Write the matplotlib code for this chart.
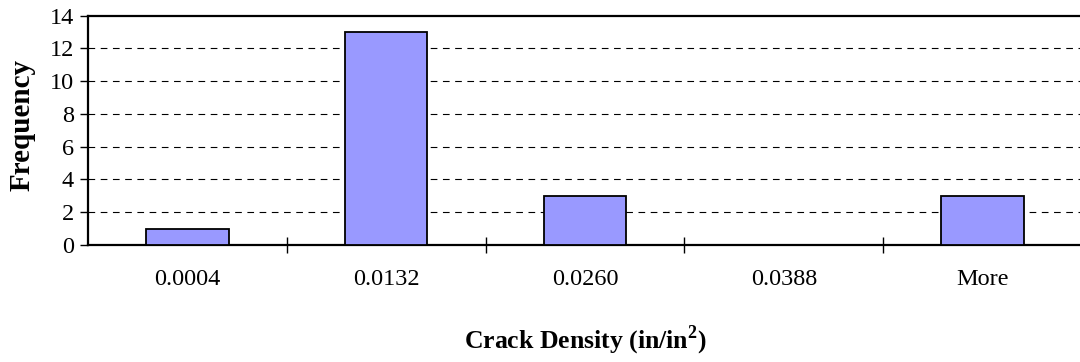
import numpy as np
import matplotlib
matplotlib.use("Agg")
import matplotlib.pyplot as plt

bins = ["0.0004", "0.0132", "0.0260", "0.0388", "More"]
frequency = [1, 13, 3, 0, 3]
yticks = [0, 2, 4, 6, 8, 10, 12, 14]

plt.rcParams['font.family'] = ['Liberation Serif', 'DejaVu Serif']
plt.rcParams['mathtext.fontset'] = 'custom'
plt.rcParams['mathtext.rm'] = 'Liberation Serif'
plt.rcParams['mathtext.bf'] = 'Liberation Serif:bold'

fig = plt.figure(figsize=(10.8, 3.62), dpi=100)
ax = fig.add_axes([88/1080, 1 - 245/362, 994/1080, (245 - 15.5)/362])

x = np.arange(len(bins))
ax.bar(x, frequency, width=0.415, color='#9999FF', edgecolor='black', linewidth=1.3, zorder=3)

ax.set_xlim(-0.5, len(bins) - 0.5)
ax.set_ylim(0, 14)
ax.set_yticks(yticks)
ax.set_yticklabels([str(t) for t in yticks], fontsize=17.5)
ax.set_xticks(x)
ax.set_xticklabels(bins, fontsize=17.5)
ax.tick_params(axis='x', length=0, pad=17)
ax.tick_params(axis='y', length=6, width=1, direction='out', pad=4)

# category separators crossing the axis
ax.set_xticks(x[:-1] + 0.5, minor=True)
ax.tick_params(axis='x', which='minor', length=12, width=1, direction='inout')

for t in yticks[1:-1]:
    ax.axhline(t, color='black', linestyle=(0, (6, 5)), linewidth=0.8, zorder=1)

ax.spines['right'].set_visible(False)
for s in ['left', 'bottom', 'top']:
    ax.spines[s].set_linewidth(1.6)

fig.text(22/1080, 1 - 125/362, "Frequency", rotation=90, ha='center', va='center',
         fontsize=21, fontweight='bold')
fig.text(0.5 * (88 + 1082) / 1080, 1 - 348/362, r"Crack Density (in/in$^{\mathbf{2}}$)",
         ha='center', va='baseline', fontsize=18.5, fontweight='bold')

fig.savefig("out.png", dpi=100)
